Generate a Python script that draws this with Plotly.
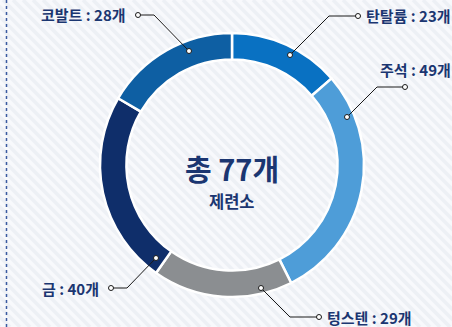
import plotly.graph_objects as go

# Smelter counts per mineral
minerals = ["탄탈륨", "주석", "텅스텐", "금", "코발트"]
counts = [23, 49, 29, 40, 28]
colors = ["#0971c2", "#4e9dd8", "#8b8e91", "#0f2e6a", "#0e5fa3"]
total_smelters = 77

W, H = 452, 327
NAVY = "#1b3671"
FONT = "Noto Sans CJK KR"


def px(x):
    return x / W


def py(y):
    return 1 - y / H


# Donut geometry (pixels)
cx, cy, r = 232, 165, 132

fig = go.Figure()
fig.add_trace(go.Pie(
    values=counts,
    labels=minerals,
    hole=0.8,
    sort=False,
    direction="clockwise",
    rotation=0,
    marker=dict(colors=colors, line=dict(color="white", width=2.5)),
    textinfo="none",
    hoverinfo="skip",
    showlegend=False,
    domain=dict(x=[px(cx - r), px(cx + r)], y=[py(cy + r), py(cy - r)]),
))

shapes = []
# diagonal striped backdrop
for x0 in range(-H, W + 10, 10):
    shapes.append(dict(type="line", xref="paper", yref="paper",
                       x0=px(x0), y0=py(0), x1=px(x0 + H), y1=py(H),
                       line=dict(color="#edf0f5", width=3.5), layer="below"))
# dotted rule along the left edge
shapes.append(dict(type="line", xref="paper", yref="paper",
                   x0=px(6.5), y0=0, x1=px(6.5), y1=1,
                   line=dict(color="#3a5aa0", width=1.5, dash="3px,3px"), layer="below"))

# label layout: (text, anchor, text x, text y, leader polyline)
labels = [
    (f"{minerals[0]} : {counts[0]}개", "left", 364, 16, [(358, 16), (329, 16), (290, 55)]),
    (f"{minerals[1]} : {counts[1]}개", "left", 378, 70, [(405, 87), (377, 87), (347, 117)]),
    (f"{minerals[2]} : {counts[2]}개", "left", 325, 317, [(319, 317), (290, 317), (261, 288)]),
    (f"{minerals[3]} : {counts[3]}개", "right", 101, 288, [(111, 288), (127, 288), (156, 258)]),
    (f"{minerals[4]} : {counts[4]}개", "right", 128, 15, [(138, 15), (154, 15), (189, 51)]),
]

annotations = []
for text, anchor, tx, ty, pts in labels:
    annotations.append(dict(
        text=f"<b>{text}</b>", x=px(tx), y=py(ty), xref="paper", yref="paper",
        xanchor=anchor, yanchor="middle", showarrow=False,
        font=dict(family=FONT, size=15, color=NAVY),
    ))
    for (x0, y0), (x1, y1) in zip(pts[:-1], pts[1:]):
        shapes.append(dict(type="line", xref="paper", yref="paper",
                           x0=px(x0), y0=py(y0), x1=px(x1), y1=py(y1),
                           line=dict(color="#1a1a1a", width=1), layer="above"))
    for (x, y) in (pts[0], pts[-1]):
        shapes.append(dict(type="circle", xref="paper", yref="paper",
                           x0=px(x - 2.5), y0=py(y + 2.5), x1=px(x + 2.5), y1=py(y - 2.5),
                           fillcolor="white", line=dict(color="#1a1a1a", width=1), layer="above"))

# center caption
annotations.append(dict(
    text=f"<b>총 {total_smelters}개</b>", x=px(cx), y=py(168), xref="paper", yref="paper",
    xanchor="center", yanchor="middle", showarrow=False,
    font=dict(family=FONT, size=29, color=NAVY),
))
annotations.append(dict(
    text="<b>제련소</b>", x=px(cx), y=py(201), xref="paper", yref="paper",
    xanchor="center", yanchor="middle", showarrow=False,
    font=dict(family=FONT, size=16.5, color=NAVY),
))

fig.update_layout(
    width=W, height=H,
    margin=dict(l=0, r=0, t=0, b=0),
    paper_bgcolor="#f8f9fc",
    plot_bgcolor="rgba(0,0,0,0)",
    shapes=shapes,
    annotations=annotations,
    xaxis=dict(visible=False),
    yaxis=dict(visible=False),
)

fig.write_html("out.html")
